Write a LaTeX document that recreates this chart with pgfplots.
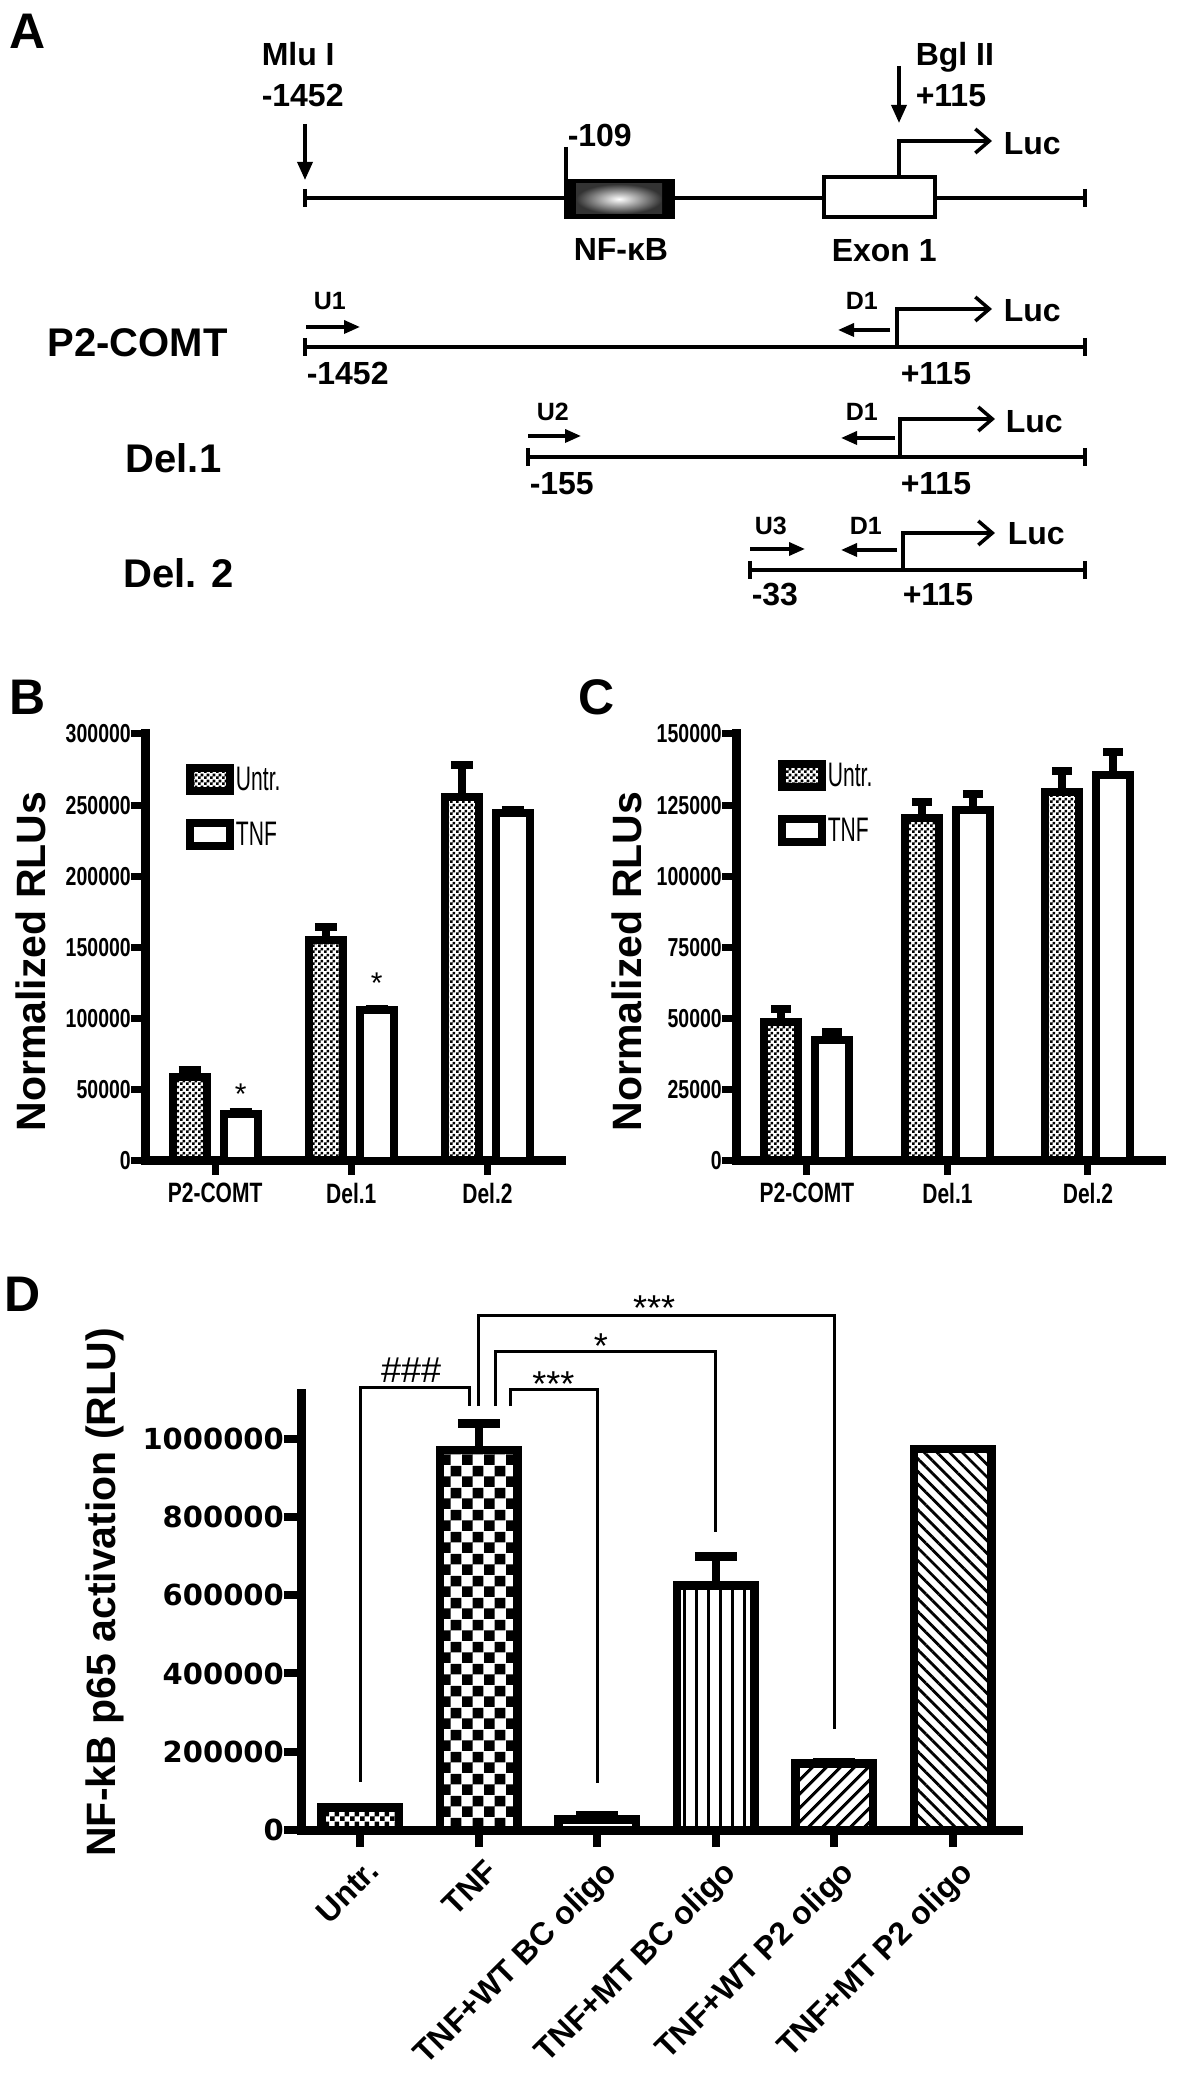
\documentclass[border=0pt]{standalone}
\usepackage{fontspec}
\setmainfont{Liberation Sans}
\newfontfamily\cond[FakeStretch=0.75]{Liberation Sans}
\newfontfamily\condreg[FakeStretch=0.62]{Liberation Sans}
\newfontfamily\djv{DejaVu Sans}
\usepackage{pgfplots}
\pgfplotsset{compat=1.18}
\usetikzlibrary{patterns,patterns.meta,arrows.meta}

\newcommand\fs[1]{\fontsize{#1}{#1}\selectfont}

% checkerboards of three sizes
\pgfdeclarepatternformonly{checkS}{\pgfpointorigin}{\pgfqpoint{6pt}{6pt}}{\pgfqpoint{6pt}{6pt}}{%
  \pgfpathrectangle{\pgfpointorigin}{\pgfqpoint{3pt}{3pt}}%
  \pgfpathrectangle{\pgfqpoint{3pt}{3pt}}{\pgfqpoint{3pt}{3pt}}%
  \pgfusepath{fill}}
\pgfdeclarepatternformonly{checkM}{\pgfpointorigin}{\pgfqpoint{10pt}{10pt}}{\pgfqpoint{10pt}{10pt}}{%
  \pgfpathrectangle{\pgfpointorigin}{\pgfqpoint{5pt}{5pt}}%
  \pgfpathrectangle{\pgfqpoint{5pt}{5pt}}{\pgfqpoint{5pt}{5pt}}%
  \pgfusepath{fill}}
\pgfdeclarepatternformonly{checkL}{\pgfpointorigin}{\pgfqpoint{22pt}{22pt}}{\pgfqpoint{22pt}{22pt}}{%
  \pgfpathrectangle{\pgfpointorigin}{\pgfqpoint{11pt}{11pt}}%
  \pgfpathrectangle{\pgfqpoint{11pt}{11pt}}{\pgfqpoint{11pt}{11pt}}%
  \pgfusepath{fill}}

\pgfplotsset{
  gp/.style={
    scale only axis, clip=false,
    axis x line*=bottom, axis y line*=left,
    axis line style={line width=9pt, line cap=rect, -},
    every outer x axis line/.append style={-},
    every outer y axis line/.append style={-},
    tick align=outside,
    tick style={line width=7pt, black},
    scaled y ticks=false,
    ymin=0,
    /pgf/number format/fixed,
    /pgf/number format/1000 sep={},
    /pgf/number format/assume math mode=true,
  },
  rlu/.style={
    gp,
    ybar=17pt, bar width=34pt,
    major tick length=14pt,
    xtick={0,1,2}, xticklabels={P2-COMT,Del.1,Del.2},
    xticklabel style={font=\fs{28}\cond\bfseries, inner sep=0pt, yshift=-8pt},
    yticklabel style={font=\fs{26}\cond\bfseries, inner sep=0pt},
    ylabel={Normalized RLUs},
    ylabel style={font=\fs{41}\bfseries, anchor=base},
    legend image code/.code={\draw[#1] (0pt,-11.5pt) rectangle (40pt,11.5pt);},
    legend cell align=left,
    legend style={draw=none, fill=none, font=\fs{34}\condreg, anchor=north west,
      row sep=24pt, inner sep=0pt},
    error bars/y dir=plus, error bars/y explicit,
    error bars/error bar style={line width=8pt, black},
  },
  untr/.style={draw=black, line width=8pt, pattern=checkS},
  tnf/.style={draw=black, line width=8pt, fill=white},
  bracket/.style={black, line width=3pt, mark=none, forget plot},
}

\begin{document}
\begin{tikzpicture}[x=1pt,y=1pt]

% ---------- panel A: promoter constructs ----------
\begin{scope}[shift={(0,2081)}, yscale=-1, line width=3.5pt,
  txt/.style={anchor=base west, inner sep=0pt, font=\fs{32}\bfseries},
  sm/.style={anchor=base west, inner sep=0pt, font=\fs{25}\bfseries},
  big/.style={anchor=base west, inner sep=0pt, font=\fs{40}\bfseries},
  dn/.style={-{Triangle[length=18pt,width=15pt]}},
  pr/.style={-{Triangle[length=16pt,width=13pt]}},
  tss/.style={-{Straight Barb[length=14pt,width=24pt,line width=3.5pt]}}]
  \node[anchor=base west, inner sep=0pt, font=\fs{50}\bfseries] at (8,49) {A};
  \node[anchor=base west, inner sep=0pt, font=\fs{50}\bfseries] at (8,715) {B};
  \node[anchor=base west, inner sep=0pt, font=\fs{50}\bfseries] at (577,715) {C};
  \node[anchor=base west, inner sep=0pt, font=\fs{50}\bfseries] at (3,1312) {D};

  % full-length map
  \draw (305,198) -- (1085,198);
  \draw (305,189) -- (305,207);
  \draw (1085,189) -- (1085,207);
  \draw[dn] (305,124) -- (305,180);
  \draw[dn] (899,66) -- (899,123);
  \node[txt] at (260,66) {Mlu I};
  \node[txt] at (260,107) {-1452};
  \node[txt] at (914,66) {Bgl II};
  \node[txt] at (914,107) {+115};
  \draw (566,147) -- (566,180);
  \node[txt] at (566,147) {-109};
  \fill[black] (564,179) rectangle (675,219);
  \shade[inner color=white, outer color=black!80] (576,184) rectangle (662,214);
  \draw[fill=white] (824,177) rectangle (935,217);
  \draw[tss] (899,177) -- (899,141) -- (992,141);
  \node[txt] at (1002,155) {Luc};
  \node[txt] at (572,261) {NF-κB};
  \node[txt] at (830,262) {Exon 1};

  % P2-COMT
  \node[big] at (46,357) {P2-COMT};
  \draw (305,347) -- (1085,347);
  \draw (305,338) -- (305,356);
  \draw (1085,338) -- (1085,356);
  \draw[pr] (306,327) -- (360,327);
  \draw[pr] (890,330) -- (838,330);
  \draw[tss] (897,347) -- (897,309) -- (992,309);
  \node[sm] at (312,310) {U1};
  \node[sm] at (844,310) {D1};
  \node[txt] at (1002,322) {Luc};
  \node[txt] at (305,385) {-1452};
  \node[txt] at (899,385) {+115};

  % Del.1
  \node[big] at (124,473) {Del.1};
  \draw (528,457) -- (1085,457);
  \draw (528,448) -- (528,466);
  \draw (1085,448) -- (1085,466);
  \draw[pr] (528,436) -- (581,436);
  \draw[pr] (895,438) -- (841,438);
  \draw[tss] (900,457) -- (900,419) -- (995,419);
  \node[sm] at (535,421) {U2};
  \node[sm] at (844,421) {D1};
  \node[txt] at (1004,433) {Luc};
  \node[txt] at (528,495) {-155};
  \node[txt] at (899,495) {+115};

  % Del. 2
  \node[big] at (122,588) {Del. 2};
  \draw (750,570) -- (1085,570);
  \draw (750,561) -- (750,579);
  \draw (1085,561) -- (1085,579);
  \draw[pr] (750,549) -- (805,549);
  \draw[pr] (897,550) -- (841,550);
  \draw[tss] (903,570) -- (903,533) -- (995,533);
  \node[sm] at (753,535) {U3};
  \node[sm] at (848,535) {D1};
  \node[txt] at (1006,545) {Luc};
  \node[txt] at (750,606) {-33};
  \node[txt] at (901,606) {+115};
\end{scope}

% ---------- panel B ----------
\begin{axis}[rlu, at={(145pt,920pt)}, anchor=south west,
  width=416pt, height=427pt,
  xmin=-0.515, xmax=2.54, ymax=300000,
  ytick={0,50000,...,300000},
  ylabel style={at={(axis description cs:-0.238,0.467)}},
  legend style={at={(axis description cs:0.098,0.93)}},
  error bars/error mark options={rotate=90, line width=8pt, mark size=11pt, black}]
\addplot[untr] coordinates {(0,59000) +- (0,4600) (1,155000) +- (0,9700) (2,255500) +- (0,23000)};
\addplot[tnf] coordinates {(0,33000) +- (0,1300) (1,106000) +- (0,600) (2,244500) +- (0,1900)};
\legend{Untr.,TNF}
\node[anchor=base, inner sep=0pt, font=\fs{30}, xshift=25.5pt, yshift=8pt] at (axis cs:0,34300) {*};
\node[anchor=base, inner sep=0pt, font=\fs{30}, xshift=25.5pt, yshift=16pt] at (axis cs:1,106600) {*};
\end{axis}

% ---------- panel C ----------
\begin{axis}[rlu, at={(736pt,920pt)}, anchor=south west,
  width=425pt, height=427pt,
  xmin=-0.505, xmax=2.52, ymax=150000,
  ytick={0,25000,...,150000},
  ylabel style={at={(axis description cs:-0.2235,0.467)}},
  legend style={at={(axis description cs:0.098,0.94)}},
  error bars/error mark options={rotate=90, line width=8pt, mark size=10pt, black}]
\addplot[untr] coordinates {(0,48800) +- (0,4500) (1,120600) +- (0,5600) (2,129600) +- (0,7500)};
\addplot[tnf] coordinates {(0,42600) +- (0,2700) (1,123300) +- (0,5700) (2,135600) +- (0,7900)};
\legend{Untr.,TNF}
\end{axis}

% ---------- panel D ----------
\begin{axis}[gp, at={(301pt,251pt)}, anchor=south west,
  width=717pt, height=436pt,
  xmin=-0.5, xmax=5.55, ymax=1114000,
  major tick length=17pt,
  tick style={line width=8pt, black},
  xtick={0,1,2,3,4,5},
  xticklabels={Untr.,TNF,TNF+WT BC oligo,TNF+MT BC oligo,TNF+WT P2 oligo,TNF+MT P2 oligo},
  xticklabel style={font=\fs{32}\bfseries, rotate=45, anchor=north east, inner sep=0pt, xshift=-4pt, yshift=-11pt},
  ytick={0,200000,...,1000000},
  yticklabel style={font=\fs{29}\djv\bfseries, inner sep=0pt},
  ylabel={NF-kB p65 activation (RLU)},
  ylabel style={font=\fs{41}\bfseries, anchor=base, at={(axis description cs:-0.259,0.545)}},
  dbar/.style={ybar, bar shift=0pt, bar width=77.5pt, draw=black, line width=8.5pt},
  derr/.style={error bars/.cd, y dir=plus, y explicit,
    error bar style={line width=8.5pt, black},
    error mark options={rotate=90, line width=8.5pt, mark size=21pt, black}}]
\addplot[dbar, pattern=checkM] coordinates {(0,57500)};
\addplot[dbar, pattern=checkL, derr] coordinates {(1,971000) +- (0,68000)};
\addplot[dbar, fill=white, derr] coordinates {(2,27000) +- (0,10000)};
\addplot[dbar, pattern={Lines[angle=90,distance=12pt,line width=3pt]}, derr] coordinates {(3,624600) +- (0,74000)};
\addplot[dbar, pattern={Lines[angle=45,distance=10.5pt,line width=3.5pt]}, derr] coordinates {(4,170000) +- (0,4000)};
\addplot[dbar, pattern={Lines[angle=-45,distance=9pt,line width=2.8pt]}] coordinates {(5,974000)};
% significance brackets
\addplot[bracket] coordinates {(0,123000) (0,1130000) (0.92,1130000) (0.92,1083000)};
\addplot[bracket] coordinates {(1.27,1083000) (1.27,1126000) (2.0,1126000) (2.0,120000)};
\addplot[bracket] coordinates {(1.14,1083000) (1.14,1222000) (3.0,1222000) (3.0,761000)};
\addplot[bracket] coordinates {(1.0,1083000) (1.0,1315000) (4.0,1315000) (4.0,258000)};
\node[anchor=base, inner sep=0pt, font=\fs{36}, yshift=5pt] at (axis cs:0.43,1130000) {\#\#\#};
\node[anchor=base, inner sep=0pt, font=\fs{36}, yshift=-7pt] at (axis cs:1.63,1126000) {***};
\node[anchor=base, inner sep=0pt, font=\fs{36}, yshift=-7pt] at (axis cs:2.03,1222000) {*};
\node[anchor=base, inner sep=0pt, font=\fs{36}, yshift=-5pt] at (axis cs:2.48,1315000) {***};
\end{axis}

\pgfresetboundingbox
\path[use as bounding box] (0,0) rectangle (1200,2081);
\end{tikzpicture}
\end{document}
